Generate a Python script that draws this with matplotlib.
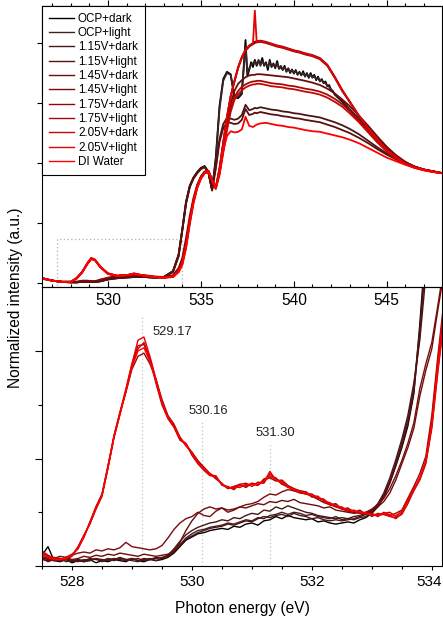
import matplotlib
matplotlib.use("Agg")
import matplotlib.pyplot as plt
from matplotlib.ticker import MultipleLocator, FixedLocator, NullFormatter
from matplotlib.patches import Rectangle
from matplotlib.transforms import ScaledTranslation

plt.rcParams['font.family'] = ['Liberation Sans', 'DejaVu Sans']

# ---------------- series ----------------
labels = ['OCP+dark', 'OCP+light', '1.15V+dark', '1.15V+light', '1.45V+dark',
          '1.45V+light', '1.75V+dark', '1.75V+light', '2.05V+dark', '2.05V+light',
          'DI Water']
colors = ['#000000', '#3a2424', '#4a1616', '#5a1010', '#6a0c0c', '#7c0a0a',
          '#920808', '#aa0808', '#c80606', '#e40202', '#ff0000']

# ---------------- top panel (full spectra) ----------------
xt = [526.45, 527.0, 527.5, 528.0, 528.3, 528.6, 528.9, 529.1, 529.3, 529.6,
      530.0, 530.5, 531.0, 531.4, 532.0, 532.5, 533.0, 533.5, 533.8, 534.0,
      534.2, 534.4, 534.6, 534.8, 535.0, 535.2, 535.4, 535.6, 535.8, 536.0,
      536.2, 536.4, 536.6, 536.8, 537.0, 537.2, 537.4, 537.6, 537.8, 537.9,
      538.0, 538.2, 538.5, 538.8, 539.1, 539.4, 539.7, 540.0, 540.3, 540.6,
      541.0, 541.4, 541.8, 542.2, 542.6, 543.0, 543.5, 544.0, 544.5, 545.0,
      545.5, 546.0, 546.5, 547.0, 547.5, 548.0]
xt_ocp = xt[:37] + [round(537.5 + 0.1 * i, 1) for i in range(48)] + xt[54:]

top_ocp_dark = [0.08, 0.04, 0.02, 0.01, 0.01, 0.02, 0.02, 0.02, 0.02, 0.03,
                0.06, 0.08, 0.09, 0.10, 0.10, 0.09, 0.10,
                0.20, 0.47, 0.90, 1.35, 1.62, 1.76, 1.85, 1.92, 1.95, 1.85,
                1.55, 2.10, 2.95, 3.40, 3.52, 3.48, 3.10, 3.08, 3.15, 4.05,
                3.45, 3.55, 3.68, 3.60, 3.72, 3.62, 3.70, 3.65, 3.75, 3.62,
                3.68, 3.55, 3.72, 3.60, 3.66, 3.58, 3.70, 3.57, 3.60, 3.55,
                3.62, 3.52, 3.58, 3.50, 3.56, 3.49, 3.55, 3.47, 3.52, 3.46,
                3.53, 3.44, 3.50, 3.42, 3.50, 3.43, 3.47, 3.38, 3.44, 3.36,
                3.40, 3.33, 3.36, 3.28, 3.30, 3.22, 3.20, 3.14,
                3.02, 2.88, 2.72, 2.55, 2.38, 2.23, 2.10, 2.00, 1.94, 1.89, 1.86, 1.83]
top_ocp_light = [0.07, 0.04, 0.02, 0.01, 0.02, 0.02, 0.03, 0.02, 0.02, 0.03,
                 0.06, 0.09, 0.10, 0.11, 0.10, 0.09, 0.10,
                 0.19, 0.45, 0.88, 1.33, 1.60, 1.75, 1.84, 1.91, 1.94, 1.84,
                 1.56, 2.05, 2.90, 3.37, 3.50, 3.47, 3.12, 3.10, 3.18, 3.95,
                 3.50, 3.58, 3.64, 3.66, 3.70, 3.64, 3.72, 3.62, 3.70, 3.64,
                 3.66, 3.60, 3.68, 3.62, 3.64, 3.60, 3.66, 3.58, 3.62, 3.56,
                 3.60, 3.54, 3.57, 3.52, 3.55, 3.50, 3.53, 3.48, 3.51, 3.47,
                 3.50, 3.45, 3.48, 3.44, 3.47, 3.42, 3.45, 3.40, 3.42, 3.37,
                 3.38, 3.34, 3.33, 3.29, 3.27, 3.23, 3.19, 3.15,
                 3.04, 2.90, 2.74, 2.57, 2.40, 2.24, 2.11, 2.01, 1.94, 1.89, 1.86, 1.83]
top_115_dark = [0.08, 0.04, 0.02, 0.01, 0.01, 0.02, 0.02, 0.03, 0.02, 0.03,
                0.07, 0.09, 0.10, 0.11, 0.10, 0.09, 0.10,
                0.18, 0.45, 0.88, 1.32, 1.60, 1.74, 1.83, 1.90, 1.93, 1.84,
                1.56, 1.95, 2.40, 2.65, 2.75, 2.74, 2.72, 2.74, 2.80, 2.97,
                2.88, 2.90, 2.92, 2.91, 2.93, 2.91, 2.89, 2.88, 2.86, 2.85,
                2.83, 2.82, 2.80, 2.78, 2.76, 2.72, 2.68, 2.63, 2.57, 2.48,
                2.37, 2.26, 2.16, 2.07, 2.00, 1.94, 1.89, 1.86, 1.83]
top_115_light = [0.08, 0.04, 0.02, 0.02, 0.01, 0.02, 0.02, 0.02, 0.02, 0.03,
                 0.06, 0.08, 0.09, 0.10, 0.10, 0.09, 0.10,
                 0.20, 0.48, 0.90, 1.36, 1.62, 1.75, 1.84, 1.90, 1.94, 1.86,
                 1.54, 1.90, 2.35, 2.58, 2.68, 2.67, 2.65, 2.66, 2.72, 2.90,
                 2.80, 2.82, 2.84, 2.83, 2.85, 2.83, 2.81, 2.80, 2.78, 2.77,
                 2.75, 2.74, 2.72, 2.70, 2.68, 2.64, 2.60, 2.55, 2.50, 2.42,
                 2.33, 2.23, 2.14, 2.06, 1.99, 1.93, 1.89, 1.86, 1.83]
top_145_dark = [0.08, 0.04, 0.02, 0.02, 0.02, 0.03, 0.03, 0.03, 0.03, 0.04,
                0.08, 0.11, 0.12, 0.13, 0.12, 0.10, 0.10,
                0.13, 0.25, 0.42, 0.75, 1.12, 1.42, 1.64, 1.78, 1.86, 1.86,
                1.70, 1.60, 1.85, 2.25, 2.65, 2.98, 3.20, 3.32, 3.38, 3.43,
                3.46, 3.47, 3.47, 3.48, 3.48, 3.47, 3.46, 3.45, 3.44, 3.43,
                3.41, 3.39, 3.37, 3.34, 3.30, 3.24, 3.16, 3.06, 2.95, 2.79,
                2.62, 2.44, 2.27, 2.13, 2.02, 1.94, 1.89, 1.86, 1.83]
top_145_light = [0.08, 0.04, 0.02, 0.02, 0.02, 0.04, 0.04, 0.03, 0.03, 0.06,
                 0.09, 0.12, 0.13, 0.14, 0.13, 0.11, 0.10,
                 0.12, 0.22, 0.36, 0.66, 1.05, 1.38, 1.62, 1.76, 1.85, 1.87,
                 1.72, 1.58, 1.90, 2.33, 2.75, 3.10, 3.35, 3.58, 3.75, 3.87,
                 3.94, 3.98, 4.00, 4.01, 4.02, 4.00, 3.97, 3.94, 3.92, 3.89,
                 3.86, 3.84, 3.81, 3.78, 3.73, 3.62, 3.42, 3.20, 3.02, 2.78,
                 2.57, 2.38, 2.22, 2.10, 1.99, 1.93, 1.89, 1.86, 1.83]
top_175_dark = [0.08, 0.04, 0.02, 0.02, 0.07, 0.17, 0.32, 0.40, 0.38, 0.26,
                0.16, 0.12, 0.13, 0.15, 0.12, 0.10, 0.09,
                0.11, 0.21, 0.34, 0.64, 1.04, 1.37, 1.61, 1.76, 1.85, 1.87,
                1.73, 1.59, 1.92, 2.35, 2.77, 3.12, 3.37, 3.60, 3.77, 3.89,
                3.96, 4.00, 4.02, 4.03, 4.04, 4.02, 3.99, 3.96, 3.94, 3.91,
                3.88, 3.86, 3.83, 3.80, 3.75, 3.64, 3.44, 3.22, 3.03, 2.79,
                2.58, 2.39, 2.23, 2.10, 1.99, 1.93, 1.89, 1.86, 1.83]
top_175_light = [0.08, 0.04, 0.02, 0.02, 0.08, 0.18, 0.33, 0.41, 0.38, 0.26,
                 0.15, 0.12, 0.13, 0.15, 0.12, 0.10, 0.09,
                 0.11, 0.20, 0.33, 0.62, 1.02, 1.36, 1.60, 1.75, 1.84, 1.86,
                 1.72, 1.58, 1.82, 2.20, 2.58, 2.90, 3.10, 3.20, 3.27, 3.31,
                 3.34, 3.36, 3.36, 3.37, 3.37, 3.35, 3.33, 3.32, 3.31, 3.29,
                 3.28, 3.26, 3.24, 3.22, 3.19, 3.14, 3.07, 2.98, 2.87, 2.71,
                 2.53, 2.36, 2.20, 2.08, 1.98, 1.92, 1.88, 1.85, 1.83]
top_205_dark = [0.08, 0.04, 0.02, 0.02, 0.08, 0.18, 0.33, 0.41, 0.39, 0.27,
                0.16, 0.12, 0.13, 0.16, 0.12, 0.10, 0.09,
                0.10, 0.19, 0.32, 0.60, 1.00, 1.34, 1.59, 1.74, 1.83, 1.85,
                1.71, 1.57, 1.80, 2.17, 2.54, 2.85, 3.05, 3.15, 3.21, 3.26,
                3.29, 3.31, 3.31, 3.32, 3.32, 3.30, 3.28, 3.27, 3.26, 3.24,
                3.23, 3.21, 3.19, 3.17, 3.14, 3.09, 3.02, 2.94, 2.83, 2.68,
                2.51, 2.34, 2.19, 2.07, 1.98, 1.92, 1.88, 1.85, 1.83]
top_205_light = [0.08, 0.04, 0.02, 0.02, 0.08, 0.18, 0.34, 0.42, 0.39, 0.27,
                 0.16, 0.12, 0.13, 0.16, 0.12, 0.10, 0.09,
                 0.11, 0.21, 0.35, 0.65, 1.04, 1.37, 1.61, 1.76, 1.85, 1.87,
                 1.72, 1.58, 1.90, 2.33, 2.76, 3.11, 3.36, 3.58, 3.76, 3.88,
                 3.95, 3.99, 4.54, 4.02, 4.03, 4.01, 3.98, 3.95, 3.93, 3.90,
                 3.87, 3.85, 3.82, 3.79, 3.74, 3.63, 3.43, 3.21, 3.02, 2.79,
                 2.58, 2.39, 2.22, 2.10, 1.99, 1.93, 1.89, 1.86, 1.83]
top_di_water = [0.08, 0.04, 0.02, 0.02, 0.07, 0.17, 0.32, 0.40, 0.38, 0.26,
                0.15, 0.12, 0.13, 0.15, 0.12, 0.10, 0.09,
                0.10, 0.18, 0.30, 0.58, 0.98, 1.33, 1.58, 1.74, 1.83, 1.85,
                1.70, 1.57, 1.85, 2.20, 2.45, 2.53, 2.51, 2.52, 2.56, 2.77,
                2.62, 2.60, 2.62, 2.64, 2.66, 2.67, 2.65, 2.63, 2.62, 2.60,
                2.59, 2.57, 2.55, 2.53, 2.52, 2.49, 2.46, 2.43, 2.39, 2.33,
                2.25, 2.17, 2.09, 2.03, 1.97, 1.92, 1.88, 1.85, 1.83]

top_series = [top_ocp_dark, top_ocp_light, top_115_dark, top_115_light,
              top_145_dark, top_145_light, top_175_dark, top_175_light,
              top_205_dark, top_205_light, top_di_water]

# ---------------- bottom panel (pre-edge zoom) ----------------
xb = [round(527.5 + 0.1 * i, 1) for i in range(68)]

bot_ocp_dark = [0.10, 0.18, 0.05, 0.04, 0.06, 0.03, 0.05, 0.04, 0.06, 0.03,
                0.05, 0.04, 0.06, 0.05, 0.04, 0.07, 0.05, 0.04, 0.06, 0.05,
                0.06, 0.08, 0.12, 0.18, 0.24, 0.27, 0.30, 0.31, 0.33, 0.34,
                0.35, 0.34, 0.37, 0.36, 0.39, 0.40, 0.38, 0.42, 0.43, 0.46,
                0.44, 0.47, 0.45, 0.44, 0.43, 0.44, 0.41, 0.42, 0.40, 0.39,
                0.40, 0.41, 0.40, 0.43, 0.45, 0.49, 0.55, 0.64, 0.77, 0.93,
                1.10, 1.30, 1.60, 2.25, 3.00, 3.80, 4.60, 5.40]
bot_ocp_light = [0.08, 0.06, 0.05, 0.07, 0.04, 0.05, 0.06, 0.04, 0.05, 0.07,
                 0.04, 0.06, 0.05, 0.07, 0.06, 0.05, 0.04, 0.06, 0.07, 0.05,
                 0.07, 0.09, 0.14, 0.20, 0.26, 0.30, 0.33, 0.34, 0.36, 0.37,
                 0.38, 0.40, 0.39, 0.41, 0.43, 0.42, 0.45, 0.44, 0.47, 0.48,
                 0.50, 0.48, 0.50, 0.49, 0.47, 0.48, 0.46, 0.45, 0.44, 0.46,
                 0.43, 0.44, 0.43, 0.45, 0.46, 0.50, 0.56, 0.66, 0.79, 0.96,
                 1.15, 1.36, 1.66, 2.20, 2.90, 3.70, 4.50, 5.30]
bot_115_dark = [0.06, 0.05, 0.07, 0.05, 0.06, 0.04, 0.06, 0.05, 0.07, 0.06,
                0.05, 0.07, 0.06, 0.08, 0.06, 0.07, 0.05, 0.07, 0.06, 0.07,
                0.08, 0.10, 0.16, 0.23, 0.29, 0.33, 0.36, 0.38, 0.40, 0.41,
                0.43, 0.42, 0.45, 0.44, 0.47, 0.49, 0.48, 0.52, 0.51, 0.55,
                0.53, 0.56, 0.54, 0.52, 0.50, 0.49, 0.47, 0.46, 0.45, 0.44,
                0.45, 0.44, 0.46, 0.47, 0.49, 0.52, 0.58, 0.68, 0.82, 0.99,
                1.18, 1.40, 1.70, 2.10, 2.70, 3.50, 4.30, 5.10]
bot_115_light = [0.07, 0.04, 0.06, 0.05, 0.07, 0.05, 0.04, 0.06, 0.05, 0.07,
                 0.06, 0.05, 0.07, 0.06, 0.05, 0.06, 0.07, 0.05, 0.06, 0.08,
                 0.07, 0.09, 0.13, 0.19, 0.25, 0.28, 0.31, 0.33, 0.35, 0.36,
                 0.37, 0.39, 0.38, 0.40, 0.42, 0.41, 0.44, 0.46, 0.45, 0.47,
                 0.48, 0.46, 0.49, 0.47, 0.46, 0.44, 0.45, 0.43, 0.42, 0.43,
                 0.42, 0.43, 0.44, 0.46, 0.48, 0.51, 0.57, 0.65, 0.78, 0.94,
                 1.12, 1.33, 1.62, 2.15, 2.85, 3.60, 4.40, 5.20]
bot_145_dark = [0.09, 0.07, 0.05, 0.06, 0.08, 0.06, 0.07, 0.09, 0.08, 0.10,
                0.09, 0.11, 0.10, 0.12, 0.11, 0.10, 0.09, 0.11, 0.10, 0.09,
                0.10, 0.11, 0.14, 0.22, 0.33, 0.42, 0.49, 0.53, 0.55, 0.53,
                0.54, 0.52, 0.53, 0.55, 0.54, 0.56, 0.58, 0.57, 0.60, 0.59,
                0.61, 0.60, 0.62, 0.59, 0.58, 0.57, 0.56, 0.54, 0.55, 0.52,
                0.51, 0.50, 0.49, 0.50, 0.48, 0.51, 0.55, 0.60, 0.68, 0.80,
                0.95, 1.10, 1.28, 1.58, 1.82, 2.02, 2.38, 2.72]
bot_145_light = [0.08, 0.06, 0.07, 0.09, 0.08, 0.10, 0.12, 0.13, 0.12, 0.15,
                 0.14, 0.16, 0.15, 0.17, 0.22, 0.18, 0.17, 0.16, 0.15, 0.16,
                 0.19, 0.26, 0.34, 0.40, 0.44, 0.46, 0.50, 0.47, 0.46, 0.51,
                 0.54, 0.50, 0.52, 0.55, 0.57, 0.58, 0.60, 0.64, 0.67, 0.66,
                 0.69, 0.71, 0.70, 0.68, 0.67, 0.65, 0.62, 0.59, 0.57, 0.55,
                 0.53, 0.51, 0.50, 0.49, 0.50, 0.53, 0.57, 0.63, 0.72, 0.84,
                 0.98, 1.14, 1.33, 1.65, 1.88, 2.08, 2.42, 2.78]
bot_175_dark = [0.13, 0.10, 0.06, 0.05, 0.08, 0.11, 0.16, 0.27, 0.41, 0.55,
                0.67, 0.93, 1.21, 1.43, 1.62, 1.83, 1.95, 1.98, 1.88, 1.74,
                1.55, 1.40, 1.32, 1.20, 1.12, 1.06, 0.98, 0.92, 0.86, 0.81,
                0.77, 0.72, 0.74, 0.76, 0.73, 0.77, 0.75, 0.80, 0.82, 0.79,
                0.80, 0.75, 0.72, 0.70, 0.67, 0.67, 0.63, 0.62, 0.57, 0.58,
                0.53, 0.54, 0.50, 0.52, 0.48, 0.49, 0.46, 0.50, 0.47, 0.49,
                0.52, 0.63, 0.74, 0.86, 1.02, 1.40, 1.95, 2.45]
bot_175_light = [0.11, 0.08, 0.08, 0.07, 0.06, 0.09, 0.18, 0.29, 0.39, 0.53,
                 0.65, 0.91, 1.19, 1.41, 1.64, 1.88, 2.05, 2.06, 1.92, 1.70,
                 1.50, 1.37, 1.29, 1.17, 1.14, 1.03, 0.95, 0.89, 0.84, 0.84,
                 0.75, 0.74, 0.71, 0.76, 0.77, 0.74, 0.78, 0.77, 0.86, 0.81,
                 0.76, 0.74, 0.70, 0.70, 0.69, 0.64, 0.65, 0.60, 0.59, 0.55,
                 0.55, 0.51, 0.52, 0.49, 0.50, 0.46, 0.49, 0.48, 0.46, 0.45,
                 0.48, 0.58, 0.70, 0.80, 0.95, 1.28, 1.80, 2.30]
bot_205_dark = [0.12, 0.09, 0.07, 0.06, 0.07, 0.10, 0.17, 0.28, 0.40, 0.54,
                0.66, 0.92, 1.20, 1.42, 1.63, 1.86, 2.02, 2.08, 1.93, 1.73,
                1.53, 1.38, 1.31, 1.18, 1.14, 1.05, 0.97, 0.90, 0.85, 0.82,
                0.76, 0.72, 0.74, 0.73, 0.76, 0.76, 0.75, 0.81, 0.83, 0.82,
                0.77, 0.73, 0.72, 0.68, 0.69, 0.65, 0.63, 0.62, 0.57, 0.57,
                0.53, 0.53, 0.51, 0.50, 0.49, 0.47, 0.48, 0.49, 0.50, 0.46,
                0.51, 0.60, 0.72, 0.81, 0.97, 1.32, 1.88, 2.38]
bot_205_light = [0.14, 0.10, 0.07, 0.06, 0.08, 0.10, 0.17, 0.27, 0.41, 0.55,
                 0.66, 0.93, 1.21, 1.43, 1.65, 1.88, 2.10, 2.13, 1.95, 1.74,
                 1.52, 1.39, 1.30, 1.19, 1.12, 1.05, 0.96, 0.91, 0.86, 0.83,
                 0.76, 0.73, 0.72, 0.75, 0.74, 0.77, 0.76, 0.78, 0.88, 0.80,
                 0.79, 0.74, 0.71, 0.69, 0.67, 0.66, 0.64, 0.61, 0.58, 0.56,
                 0.54, 0.52, 0.51, 0.50, 0.49, 0.48, 0.47, 0.48, 0.47, 0.44,
                 0.49, 0.62, 0.70, 0.82, 0.98, 1.35, 1.90, 2.40]
bot_di_water = [0.12, 0.08, 0.06, 0.06, 0.07, 0.10, 0.16, 0.28, 0.40, 0.53,
                0.65, 0.91, 1.20, 1.41, 1.62, 1.85, 2.00, 2.03, 1.90, 1.72,
                1.52, 1.38, 1.30, 1.19, 1.13, 1.05, 0.96, 0.90, 0.85, 0.83,
                0.76, 0.73, 0.73, 0.75, 0.75, 0.76, 0.76, 0.79, 0.84, 0.80,
                0.78, 0.74, 0.71, 0.69, 0.68, 0.66, 0.64, 0.61, 0.58, 0.56,
                0.54, 0.52, 0.51, 0.50, 0.49, 0.48, 0.48, 0.49, 0.48, 0.47,
                0.50, 0.61, 0.71, 0.82, 0.97, 1.30, 1.82, 2.25]

bot_series = [bot_ocp_dark, bot_ocp_light, bot_115_dark, bot_115_light,
              bot_145_dark, bot_145_light, bot_175_dark, bot_175_light,
              bot_205_dark, bot_205_light, bot_di_water]

# peak markers in the zoom panel
peak_energies = [529.17, 530.16, 531.30]
peak_labels = ['529.17', '530.16', '531.30']
peak_line_tops = [2.32, 1.36, 1.13]
peak_label_x = [529.35, 530.27, 531.39]
peak_label_y = [2.18, 1.44, 1.24]
peak_label_ha = ['left', 'center', 'center']

# zoom region marked on the top panel
zoom_x = [527.27, 534.0]
zoom_top = 0.73

# ---------------- figure ----------------
fig = plt.figure(figsize=(4.43, 6.21), dpi=100)
W, H = 443.0, 621.0
ax_bot = fig.add_axes([42 / W, 1 - 566 / H, 400 / W, (566 - 286.5) / H])
ax_top = fig.add_axes([42 / W, 1 - 286.5 / H, 400 / W, (286.5 - 6) / H])
ax_top.set_zorder(3)
ax_top.patch.set_alpha(0)

for i in range(11):
    xs = xt_ocp if i < 2 else xt
    ax_top.plot(xs, top_series[i], color=colors[i], lw=1.3, label=labels[i])
    ax_bot.plot(xb, bot_series[i], color=colors[i], lw=1.0)

ax_top.add_patch(Rectangle((zoom_x[0], -0.1), zoom_x[1] - zoom_x[0], zoom_top + 0.1,
                           fill=False, ec='#b0b0b0', lw=0.9, ls=(0, (1, 2)), zorder=0.5))

for e, t, lab, lx, ly, ha in zip(peak_energies, peak_line_tops, peak_labels,
                                  peak_label_x, peak_label_y, peak_label_ha):
    ax_bot.plot([e, e], [0, t], color='#c4c4c4', lw=0.9, ls=(0, (1, 2)), zorder=0.5)
    ax_bot.text(lx, ly, lab, ha=ha, va='center', fontsize=9.4, color='#222222')

# limits
ax_top.set_xlim(526.45, 547.97)
ax_top.set_ylim(-0.058, 4.617)
ax_bot.set_xlim(527.5, 534.17)
ax_bot.set_ylim(0, 2.6)

# top panel ticks
ax_top.xaxis.set_major_locator(MultipleLocator(5))
ax_top.xaxis.set_minor_locator(MultipleLocator(1))
ax_top.tick_params(axis='x', which='both', direction='in', bottom=True, top=False,
                   labelsize=11.2, pad=5)
ax_top.tick_params(axis='x', which='major', length=4.5, width=0.8)
ax_top.tick_params(axis='x', which='minor', length=2.5, width=0.8)
ax_top.yaxis.set_major_locator(MultipleLocator(1))
ax_top.yaxis.set_major_formatter(NullFormatter())
ax_top.tick_params(axis='y', which='major', direction='out', length=3.5, width=0.8,
                   left=True, right=False)
sec = ax_top.secondary_xaxis('top')
sec.xaxis.set_major_locator(MultipleLocator(5))
sec.xaxis.set_minor_locator(MultipleLocator(1))
sec.tick_params(axis='x', which='both', direction='out', labeltop=False, width=0.8)
sec.tick_params(axis='x', which='major', length=4.5)
sec.tick_params(axis='x', which='minor', length=2.5)

# bottom panel ticks
ax_bot.xaxis.set_major_locator(MultipleLocator(2))
ax_bot.xaxis.set_minor_locator(MultipleLocator(0.5))
ax_bot.tick_params(axis='x', which='both', direction='out', top=False, labelsize=11.0,
                   pad=3.5, width=0.8)
ax_bot.tick_params(axis='x', which='major', length=3.2)
ax_bot.tick_params(axis='x', which='minor', length=2.0)
ax_bot.yaxis.set_major_locator(MultipleLocator(1))
ax_bot.yaxis.set_minor_locator(FixedLocator([0.5, 1.5]))
ax_bot.yaxis.set_major_formatter(NullFormatter())
ax_bot.tick_params(axis='y', which='both', direction='out', right=False, width=0.8)
ax_bot.tick_params(axis='y', which='major', length=5.3)
ax_bot.tick_params(axis='y', which='minor', length=2.9)

for ax in (ax_top, ax_bot):
    for s in ax.spines.values():
        s.set_linewidth(0.8)
sec.spines['top'].set_linewidth(0.8)

ax_bot.set_xlabel('Photon energy (eV)', fontsize=11.2, labelpad=8.5)
fig.text(16 / W, 1 - 298 / H, 'Normalized intensity (a.u.)', rotation=90,
         ha='center', va='center', fontsize=11.2)

# keep the right-most bottom tick label inside the canvas
fig.canvas.draw()
last_lab = [t for t in ax_bot.get_xticklabels() if t.get_text() == '534']
for t in last_lab:
    t.set_transform(t.get_transform() + ScaledTranslation(-3 / 100, 0, fig.dpi_scale_trans))

leg = ax_top.legend(loc='upper left', bbox_to_anchor=(0, 1), borderaxespad=0,
                    frameon=True, fancybox=False, edgecolor='black', framealpha=1,
                    fontsize=8.4, handlelength=2.2, handletextpad=0.3,
                    labelspacing=0.2, borderpad=0.58)
leg.get_frame().set_linewidth(0.8)
for ln in leg.get_lines():
    ln.set_linewidth(1.0)

fig.savefig('out.png', dpi=100)
